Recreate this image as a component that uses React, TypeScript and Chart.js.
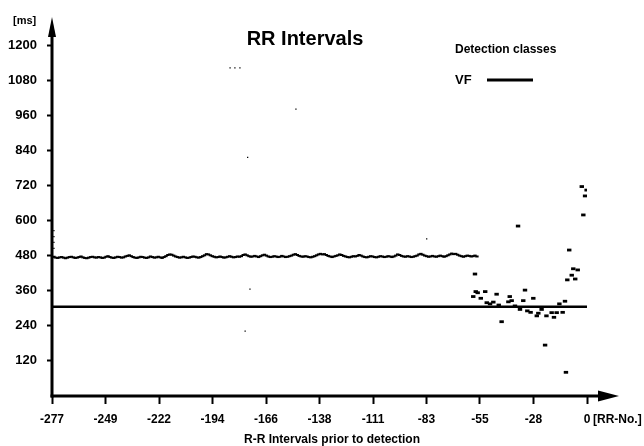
import { useEffect, useRef } from 'react';
import { Chart, registerables } from 'chart.js';

Chart.register(...registerables);

// ---- data ----
const rrStart = -277;
// RR intervals [ms] before the onset, one per RR number from -277 to -57
const rrBaseline = [
  474, 476, 473, 472, 474, 475, 473, 471, 473, 475, 476, 474, 472, 473, 475, 477, 474, 472, 471, 473,
  475, 476, 474, 473, 475, 474, 472, 473, 476, 478, 475, 473, 472, 474, 476, 475, 473, 474, 477, 479,
  481, 478, 475, 473, 472, 474, 476, 475, 473, 472, 474, 477, 475, 473, 474, 476, 474, 472, 475, 478,
  482, 484, 483, 480, 477, 475, 473, 474, 476, 474, 472, 473, 475, 477, 476, 474, 473, 475, 478, 481,
  485, 484, 481, 478, 476, 474, 475, 477, 475, 473, 474, 476, 478, 476, 474, 475, 477, 476, 478, 482,
  484, 481, 478, 476, 477, 479, 477, 475, 478, 481, 483, 480, 477, 475, 476, 478, 477, 475, 476, 479,
  477, 475, 476, 478, 480, 483, 485, 482, 479, 477, 476, 478, 477, 475, 474, 476, 478, 481, 484, 486,
  484, 485, 482, 479, 477, 475, 477, 479, 481, 484, 482, 479, 477, 475, 474, 476, 478, 477, 479, 482,
  480, 477, 475, 474, 476, 478, 477, 475, 474, 476, 478, 477, 475, 476, 478, 477, 475, 477, 480, 484,
  482, 479, 477, 476, 478, 477, 475, 476, 478, 480, 484, 486, 483, 480, 478, 476, 477, 479, 477, 476,
  478, 480, 478, 476, 478, 481, 484, 487, 485, 486, 483, 480, 478, 476, 478, 480, 479, 477, 478, 480,
  477,
];

// irregular intervals close to detection
const lateX = [
  -58, -58.9, -57.6, -56.6, -55, -52.7, -51.9, -50.2, -48.5, -46.8, -45.7, -44.2, -40.7, -40, -39,
  -37.3, -35.7, -34.7, -33, -32.1, -30.9, -29.2, -27.8, -26, -25.2, -23.5, -21.7, -21, -18.3, -17.1,
  -15.7, -14.3, -12.6, -11.4, -10.9, -10.2, -9.2, -7.9, -7.1, -6.1, -4.8, -2.7, -1.9, -1.0, -0.2,
];
const lateY = [
  417, 340, 357, 353, 334, 357, 319, 315, 321, 348, 311, 254, 322, 340, 326,
  308, 581, 296, 326, 362, 291, 286, 334, 274, 283, 296, 174, 274, 285, 269,
  285, 315, 286, 324, 81, 397, 499, 413, 435, 400, 431, 716, 619, 684, 704,
];

// isolated outliers
const strayX = [-276, -276, -276, -276, -184.8, -182.3, -179.7, -177, -175.7, -174.5, -150.7, -83];
const strayY = [565, 545, 525, 505, 1122, 1122, 1122, 222, 816, 365, 981, 537];

// detection class VF level [ms]
const vfLevel = 305;

const xTickValues = [-277, -249.3, -221.6, -193.9, -166.2, -138.5, -110.8, -83.1, -55.4, -27.7, 0];
const xTickLabels = ['-277', '-249', '-222', '-194', '-166', '-138', '-111', '-83', '-55', '-28', '0'];
const yTickValues = [120, 240, 360, 480, 600, 720, 840, 960, 1080, 1200];

const FONT = '"Liberation Sans", Arial, sans-serif';

const overlay = {
  id: 'overlay',
  afterDraw(chart: any) {
    const { ctx, chartArea: a } = chart;
    ctx.save();
    ctx.fillStyle = '#000';
    ctx.strokeStyle = '#000';
    // y axis with arrow
    ctx.lineWidth = 3;
    ctx.beginPath();
    ctx.moveTo(a.left, a.bottom + 1.5);
    ctx.lineTo(a.left, 34);
    ctx.stroke();
    ctx.beginPath();
    ctx.moveTo(a.left, 17);
    ctx.lineTo(a.left - 4, 37);
    ctx.lineTo(a.left + 4, 37);
    ctx.closePath();
    ctx.fill();
    // x axis with arrow
    ctx.beginPath();
    ctx.moveTo(a.left - 1.5, a.bottom);
    ctx.lineTo(602, a.bottom);
    ctx.stroke();
    ctx.beginPath();
    ctx.moveTo(619, a.bottom);
    ctx.lineTo(598, a.bottom - 5.5);
    ctx.lineTo(598, a.bottom + 5.5);
    ctx.closePath();
    ctx.fill();

    ctx.textBaseline = 'alphabetic';
    // title
    ctx.font = `bold 20px ${FONT}`;
    ctx.textAlign = 'center';
    ctx.fillText('RR Intervals', 305, 45);
    // legend
    ctx.textAlign = 'left';
    ctx.font = `bold 12px ${FONT}`;
    ctx.fillText('Detection classes', 455, 53);
    ctx.font = `bold 13px ${FONT}`;
    ctx.fillText('VF', 455, 83.5);
    ctx.lineWidth = 3;
    ctx.beginPath();
    ctx.moveTo(487, 80);
    ctx.lineTo(533, 80);
    ctx.stroke();
    // axis unit labels
    ctx.font = `bold 11px ${FONT}`;
    ctx.fillText('[ms]', 13, 24);
    ctx.font = `bold 12px ${FONT}`;
    ctx.textBaseline = 'middle';
    ctx.fillText('[RR-No.]', 593, 420);
    ctx.textAlign = 'center';
    ctx.textBaseline = 'alphabetic';
    ctx.fillText('R-R Intervals prior to detection', 332, 443);
    ctx.restore();
  },
};

export default function App() {
  const ref = useRef<HTMLCanvasElement | null>(null);

  useEffect(() => {
    if (!ref.current) return;
    const baseline = rrBaseline.map((v, i) => ({ x: rrStart + i, y: v }));
    const late = lateX.map((x, i) => ({ x, y: lateY[i] }));
    const stray = strayX.map((x, i) => ({ x, y: strayY[i] }));

    const chart = new Chart(ref.current, {
      type: 'scatter',
      data: {
        datasets: [
          {
            label: 'VF',
            data: [
              { x: rrStart, y: vfLevel },
              { x: 0, y: vfLevel },
            ],
            showLine: true,
            borderColor: '#000',
            borderWidth: 2.5,
            pointRadius: 0,
          },
          {
            label: 'RR',
            data: baseline,
            pointStyle: 'line',
            pointRadius: 1.7,
            borderWidth: 2,
            borderColor: '#000',
            backgroundColor: '#000',
          },
          {
            label: 'RR late',
            data: late,
            pointStyle: 'line',
            pointRadius: 2.2,
            borderWidth: 2.8,
            borderColor: '#000',
            backgroundColor: '#000',
          },
          {
            label: 'stray',
            data: stray,
            pointStyle: 'rect',
            pointRadius: 0.9,
            borderWidth: 0,
            borderColor: '#000',
            backgroundColor: '#000',
          },
        ],
      } as any,
      options: {
        animation: false,
        responsive: true,
        maintainAspectRatio: false,
        events: [],
        layout: { padding: { left: 0, right: 57, top: 45, bottom: 0 } },
        plugins: {
          legend: { display: false },
          title: { display: false },
          tooltip: { enabled: false },
        },
        scales: {
          x: {
            type: 'linear',
            min: -277,
            max: 0,
            border: { display: false },
            grid: {
              drawOnChartArea: false,
              drawTicks: true,
              tickLength: 8,
              tickWidth: 2,
              tickColor: '#000',
            },
            afterBuildTicks: (s: any) => {
              s.ticks = xTickValues.map((v) => ({ value: v }));
            },
            afterFit: (s: any) => {
              s.height = 50;
            },
            ticks: {
              autoSkip: false,
              maxRotation: 0,
              padding: 8,
              color: '#000',
              font: { family: FONT, size: 12, weight: 'bold' },
              callback: (_v: any, i: number) => xTickLabels[i],
            },
          },
          y: {
            type: 'linear',
            min: 0,
            max: 1200,
            border: { display: false },
            grid: {
              drawOnChartArea: false,
              drawTicks: true,
              tickLength: 5,
              tickWidth: 2,
              tickColor: '#000',
            },
            afterBuildTicks: (s: any) => {
              s.ticks = yTickValues.map((v) => ({ value: v }));
            },
            afterFit: (s: any) => {
              s.width = 52;
            },
            ticks: {
              autoSkip: false,
              padding: 10,
              color: '#000',
              font: { family: FONT, size: 13, weight: 'bold' },
              callback: (v: any) => String(v),
            },
          },
        },
      } as any,
      plugins: [overlay],
    });
    return () => chart.destroy();
  }, []);

  return (
    <div style={{ position: 'fixed', left: 0, top: 0, width: 644, height: 446, background: '#fff' }}>
      <canvas ref={ref} />
    </div>
  );
}
